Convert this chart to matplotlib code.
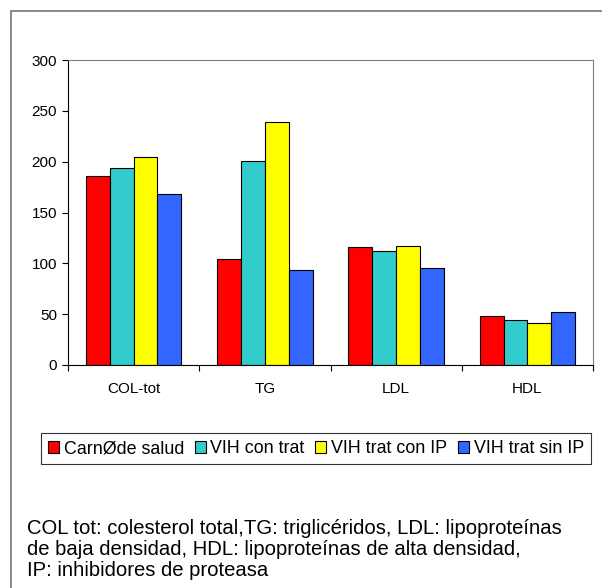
import numpy as np
import matplotlib
matplotlib.use('Agg')
import matplotlib.pyplot as plt
from matplotlib.patches import Rectangle

plt.rcParams['font.family'] = ['Liberation Sans', 'DejaVu Sans']

# data
categories = ['COL-tot', 'TG', 'LDL', 'HDL']
series_names = ['CarnØde salud', 'VIH con trat', 'VIH trat con IP', 'VIH trat sin IP']
carn_salud = [186, 104, 116, 48]
vih_con_trat = [194, 201, 112, 44]
vih_con_ip = [205, 239, 117, 41]
vih_sin_ip = [168, 93, 95, 52]
colors = ['#FF0000', '#33CCCC', '#FFFF00', '#3366FF']
note = ("COL tot: colesterol total,TG: triglicéridos, LDL: lipoproteínas\n"
        "de baja densidad, HDL: lipoproteínas de alta densidad,\n"
        "IP: inhibidores de proteasa")

W, H = 602, 588
fig = plt.figure(figsize=(W / 100, H / 100), dpi=100)

# outer frame (clipped by the right and bottom edges)
fig.patches.append(Rectangle((11 / W, -0.1), 1.2, (H - 11) / H + 0.1,
                             transform=fig.transFigure, fill=False,
                             edgecolor='#808080', linewidth=1.3))

ax = fig.add_axes([68 / W, (H - 365) / H, 525 / W, 305 / H])

all_series = [carn_salud, vih_con_trat, vih_con_ip, vih_sin_ip]
x = np.arange(len(categories))
bw = 1.0 / 5.5
for i, vals in enumerate(all_series):
    ax.bar(x + (i - 1.5) * bw, vals, width=bw, color=colors[i],
           edgecolor='black', linewidth=0.8, label=series_names[i])

ax.set_xlim(-0.5, len(categories) - 0.5)
ax.set_ylim(0, 300)
ax.set_yticks(np.arange(0, 301, 50))
ax.tick_params(axis='y', labelsize=11, length=4, width=0.8, pad=4)

# boundary ticks, labels on minor ticks at category centres
ax.set_xticks(np.arange(-0.5, len(categories)))
ax.set_xticklabels([])
ax.set_xticks(x, minor=True)
ax.set_xticklabels(categories, minor=True)
ax.tick_params(axis='x', which='major', length=4, width=0.8)
ax.tick_params(axis='x', which='minor', length=0, labelsize=11, pad=12)

for s in ['top', 'right']:
    ax.spines[s].set_color('#808080')
for s in ['left', 'bottom']:
    ax.spines[s].set_color('black')
for s in ax.spines.values():
    s.set_linewidth(0.8)

leg = fig.legend(loc='upper left', bbox_to_anchor=(41 / W, (H - 433) / H),
                 ncol=4, fontsize=12.9, frameon=True, fancybox=False,
                 handlelength=0.6, handleheight=0.6, handletextpad=0.27,
                 columnspacing=0.6, borderpad=0.4, borderaxespad=0)
leg.get_frame().set_edgecolor('black')
leg.get_frame().set_linewidth(0.8)

fig.text(27 / W, (H - 519) / H, note, fontsize=14.6, va='top', ha='left',
         linespacing=1.15)

fig.savefig('out.png', dpi=100)
